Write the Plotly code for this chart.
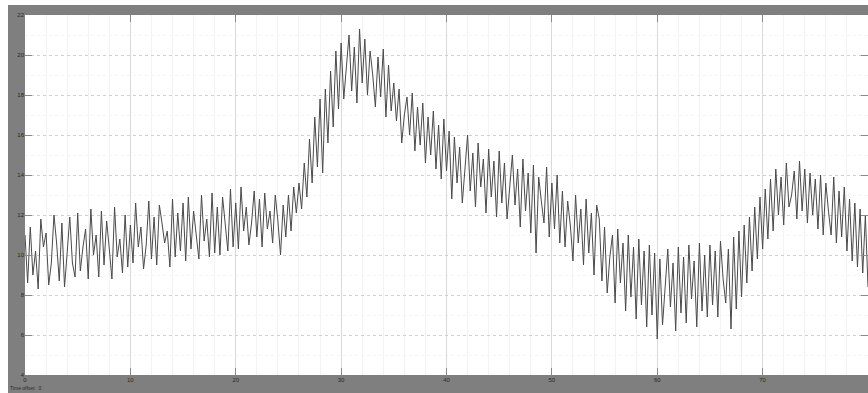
import numpy as np
import plotly.graph_objects as go

# Scope trace, sampled every 0.25 s over 0..80 s
t_start, t_step = 0.0, 0.25
signal = [
    11.0, 8.6, 11.4, 9.0, 10.2, 8.3, 11.8, 10.4, 11.1, 8.5, 9.6, 12.0, 10.6, 8.7, 11.6, 8.4, 10.1, 11.9, 9.6, 8.9,
    12.1, 9.2, 10.4, 11.3, 8.8, 12.3, 10.0, 11.0, 8.9, 12.2, 9.5, 11.7, 10.3, 8.8, 12.4, 9.9, 10.8, 9.1, 12.0, 9.4,
    11.5, 9.6, 12.6, 10.4, 11.4, 9.3, 10.5, 12.7, 9.8, 11.9, 9.5, 12.5, 11.6, 10.6, 11.2, 9.4, 12.8, 9.9, 12.1, 10.2,
    12.6, 9.7, 12.9, 10.3, 12.2, 11.0, 9.8, 13.0, 10.7, 11.8, 9.9, 13.1, 10.1, 12.4, 10.0, 12.9, 11.6, 10.2, 13.3, 10.4,
    12.6, 10.3, 13.4, 11.2, 12.4, 10.5, 11.6, 13.2, 10.9, 12.8, 10.4, 13.1, 11.3, 12.2, 10.6, 13.0, 11.7, 10.0, 12.5, 10.9,
    13.0, 11.2, 13.4, 12.1, 13.6, 12.3, 14.6, 12.9, 15.8, 13.6, 16.9, 14.4, 17.8, 14.1, 18.3, 15.6, 19.2, 16.4, 20.2, 17.3,
    20.6, 17.8, 19.4, 21.0, 18.2, 20.4, 17.6, 21.3, 18.6, 20.8, 18.0, 20.2, 19.0, 17.4, 19.9, 17.9, 20.3, 16.9, 19.5, 17.2,
    18.6, 16.7, 18.3, 15.6, 17.0, 17.9, 16.0, 18.1, 15.2, 17.4, 15.5, 17.6, 14.6, 16.9, 15.0, 17.2, 14.3, 16.5, 13.8, 16.8,
    14.2, 16.2, 12.8, 15.9, 13.6, 15.4, 12.6, 14.1, 16.0, 13.2, 15.1, 12.4, 15.6, 13.4, 14.8, 12.1, 15.3, 12.9, 14.7, 11.9,
    15.2, 12.6, 14.6, 11.8, 13.3, 15.0, 12.5, 14.3, 11.4, 14.8, 12.2, 14.1, 11.1, 14.5, 10.1, 13.9, 12.7, 11.6, 14.4, 10.9,
    13.6, 11.3, 14.0, 10.6, 13.2, 10.4, 12.7, 11.5, 9.7, 13.0, 10.6, 12.3, 9.5, 12.8, 10.1, 12.1, 9.0, 12.5, 11.8, 8.7,
    11.4, 8.1, 9.9, 11.0, 7.6, 11.3, 8.6, 10.6, 7.2, 11.0, 7.9, 10.4, 6.8, 10.8, 7.5, 10.2, 6.4, 10.5, 7.0, 10.1,
    5.8, 9.8, 6.5, 8.4, 10.3, 7.4, 9.6, 6.2, 10.4, 7.1, 9.9, 6.6, 10.5, 7.8, 9.7, 6.4, 10.6, 7.2, 10.0, 6.9,
    10.5, 7.5, 10.2, 6.9, 10.7, 8.8, 7.6, 10.3, 6.3, 10.9, 7.3, 11.2, 7.9, 11.5, 8.6, 11.9, 9.2, 12.4, 9.8, 12.9,
    10.3, 13.3, 10.8, 13.8, 11.2, 14.3, 12.0, 13.9, 11.5, 14.6, 12.4, 13.0, 14.2, 11.8, 14.7, 12.2, 14.3, 11.6, 14.1, 12.0,
    13.8, 11.3, 14.0, 11.0, 13.6, 12.2, 11.0, 13.9, 10.6, 13.2, 10.9, 13.4, 10.2, 12.8, 9.7, 12.6, 9.4, 12.3, 9.1, 12.0,
    8.4,
]
x_ticks = [0, 10, 20, 30, 40, 50, 60, 70, 80]
y_ticks = [4, 6, 8, 10, 12, 14, 16, 18, 20, 22]
time_offset_label = "Time offset:  0"

t = t_start + t_step * np.arange(len(signal))

fig = go.Figure()
fig.add_trace(go.Scatter(
    x=t, y=signal, mode="lines",
    line=dict(color="#4a4a4a", width=1),
    hoverinfo="skip", showlegend=False,
))

W, H = 868, 393
ml, mr, mt, mb = 25, 0, 15, 18
pw, ph = W - ml - mr, H - mt - mb

def px_x(p):
    return (p - ml) / pw

def px_y(p):
    return (H - mb - p) / ph

frame = "#7f7f7f"
shapes = [
    # grey scope frame
    dict(type="rect", xref="paper", yref="paper",
         x0=px_x(8), x1=px_x(W + 2), y0=px_y(H + 2), y1=px_y(5),
         fillcolor=frame, line=dict(width=0), layer="below"),
    # white plotting surface
    dict(type="rect", xref="paper", yref="paper",
         x0=0, x1=1, y0=0, y1=1,
         fillcolor="white", line=dict(width=0), layer="below"),
]

axis_font = dict(family="Liberation Sans, Arial, sans-serif", size=6, color="#2a2a2a")

fig.update_layout(
    width=W, height=H,
    margin=dict(l=ml, r=mr, t=mt, b=mb, pad=0),
    paper_bgcolor="white",
    plot_bgcolor="white",
    shapes=shapes,
    showlegend=False,
    xaxis=dict(
        range=[x_ticks[0], x_ticks[-1]], tickvals=x_ticks,
        ticktext=[str(v) for v in x_ticks],
        showgrid=True, gridcolor="#d9d9d9", gridwidth=1,
        ticks="inside", ticklen=7, tickcolor="#8a8a8a", mirror="ticks",
        showline=False, zeroline=False,
        tickfont=axis_font,
        minor=dict(dtick=2, showgrid=True, gridcolor="#f3f3f3", gridwidth=1),
    ),
    yaxis=dict(
        range=[y_ticks[0], y_ticks[-1]], tickvals=y_ticks,
        ticktext=[str(v) for v in y_ticks],
        showgrid=True, gridcolor="#d0d0d0", gridwidth=1, griddash="dot",
        ticks="inside", ticklen=7, tickcolor="#8a8a8a", mirror="ticks",
        showline=False, zeroline=False,
        tickfont=axis_font,
        minor=dict(dtick=1, showgrid=True, gridcolor="#f3f3f3", gridwidth=1),
    ),
    annotations=[dict(
        text=time_offset_label, xref="paper", yref="paper",
        x=px_x(8), y=px_y(388), xanchor="left", yanchor="middle",
        showarrow=False, font=dict(family="Liberation Sans, Arial, sans-serif", size=5, color="#2a2a2a"),
    )],
)

fig.write_html("out.html")
